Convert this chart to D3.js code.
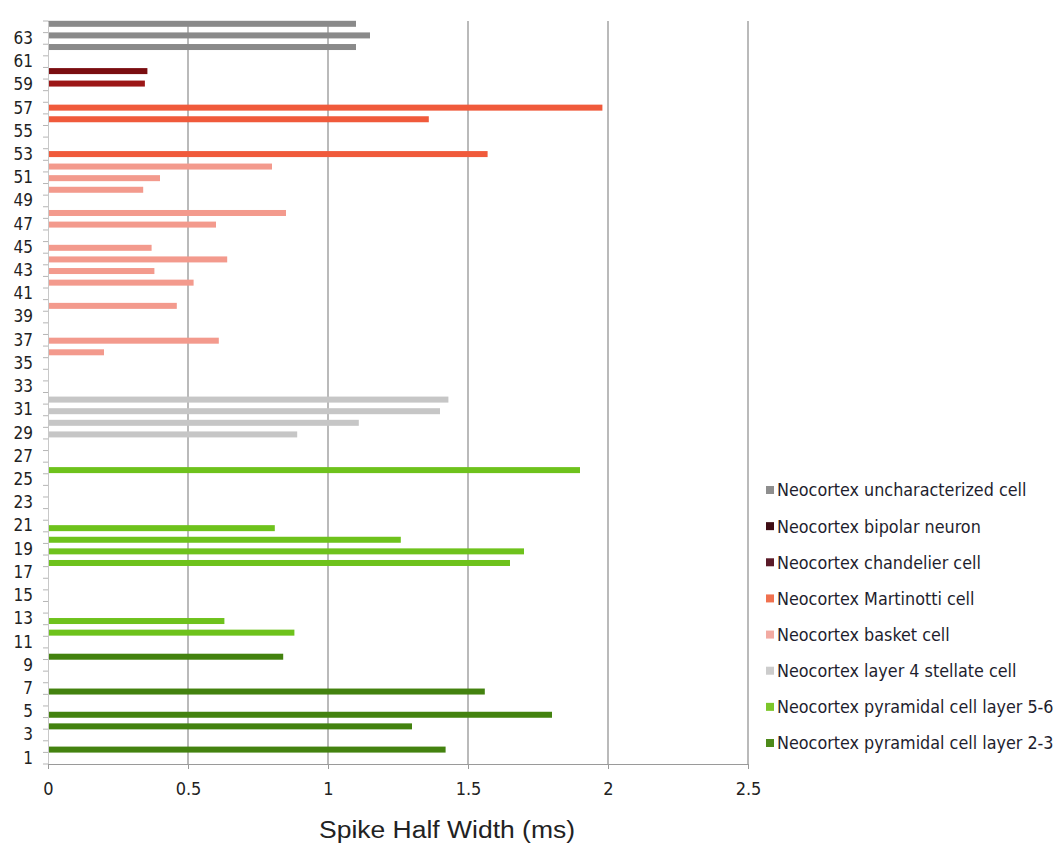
<!DOCTYPE html>
<html>
<head>
<meta charset="utf-8">
<script src="https://cdn.jsdelivr.net/npm/d3@7"></script>
<style>
  body { margin: 0; background: #fff; }
  .yLabel { font-family: "DejaVu Sans Condensed", "DejaVu Sans", sans-serif; font-size: 17px; fill: #222; }
  .xLabel { font-family: "Liberation Sans Narrow", "DejaVu Sans Condensed", sans-serif; font-size: 18px; fill: #222; }
  .legendText { font-family: "DejaVu Sans Condensed", "DejaVu Sans", sans-serif; font-size: 17.8px; fill: #1e1e2e; }
  .axisText { font-family: "Liberation Sans", Arial, sans-serif; font-size: 23px; fill: #222; }
</style>
</head>
<body>
<div class="chart"></div>
<script>
// Spike half width per cell, grouped by neocortex cell type

// Category rows 1..64 (only odd ones get a label)
var categories = d3.range(1, 65);
var yTickLabels = d3.range(1, 65, 2);
var xTickValues = [0, 0.5, 1, 1.5, 2, 2.5];

// Series names, in plotting order (first one sits lowest inside a row)
var seriesNames = [
    "Neocortex pyramidal cell layer 2-3",
    "Neocortex pyramidal cell layer 5-6",
    "Neocortex layer 4 stellate cell",
    "Neocortex basket cell",
    "Neocortex Martinotti cell",
    "Neocortex chandelier cell",
    "Neocortex bipolar neuron",
    "Neocortex uncharacterized cell"
];
var seriesColors = ["#43820f", "#6ec21c", "#c6c6c6", "#f39a8d", "#f05a3b", "#9c1717", "#7a0d10", "#8a8a8a"];
var legendColors = ["#4d8a1a", "#7cc62a", "#cccccc", "#f2aaa2", "#f0714f", "#5a1a28", "#3e0d14", "#8e8e8e"];

// [row, spike half width (ms)]
var pyr23 = [[2, 1.42], [4, 1.30], [5, 1.80], [7, 1.56], [10, 0.84]];
var pyr56 = [[12, 0.88], [13, 0.63], [18, 1.65], [19, 1.70], [20, 1.26], [21, 0.81], [26, 1.90]];
var stellate = [[29, 0.89], [30, 1.11], [31, 1.40], [32, 1.43]];
var basket = [[36, 0.20], [37, 0.61], [40, 0.46], [42, 0.52], [43, 0.38], [44, 0.64], [45, 0.37],
              [47, 0.60], [48, 0.85], [50, 0.34], [51, 0.40], [52, 0.80]];
var martinotti = [[53, 1.57], [56, 1.36], [57, 1.98]];
var chandelier = [[59, 0.346]];
var bipolar = [[60, 0.355]];
var uncharacterized = [[62, 1.10], [63, 1.15], [64, 1.10]];

var seriesValues = [pyr23, pyr56, stellate, basket, martinotti, chandelier, bipolar, uncharacterized];

var svgWidth = 1063;
var svgHeight = 856;
var chartMargin = { top: 21, right: 315, bottom: 92, left: 48 };
var chartWidth = svgWidth - chartMargin.left - chartMargin.right;
var chartHeight = svgHeight - chartMargin.top - chartMargin.bottom;

var svg = d3.select(".chart")
    .append("svg")
    .attr("width", svgWidth)
    .attr("height", svgHeight);

var chart = svg.append("g")
    .attr("transform", "translate(" + chartMargin.left + "," + chartMargin.top + ")");

// Scales
var xLinearScale = d3.scaleLinear().domain([0, 2.5]).range([0, chartWidth]);
var yBandScale = d3.scaleBand().domain(categories).range([chartHeight, 0]).padding(0);
// small shift of each series inside a row (Excel style overlap)
var seriesOffset = d3.scalePoint().domain(seriesNames).range([3, -3]);
var barHeight = 6;

// Vertical gridlines
chart.append("g")
    .selectAll("line")
    .data(xTickValues.slice(1))
    .enter()
    .append("line")
    .attr("x1", function(d) { return xLinearScale(d); })
    .attr("x2", function(d) { return xLinearScale(d); })
    .attr("y1", 0)
    .attr("y2", chartHeight)
    .attr("stroke", "#8c8c8c")
    .attr("stroke-width", 1.2);

// Bars
seriesValues.forEach(function(values, i) {
    var name = seriesNames[i];
    chart.append("g")
        .selectAll("rect")
        .data(values)
        .enter()
        .append("rect")
        .attr("x", xLinearScale(0))
        .attr("y", function(d) {
            return yBandScale(d[0]) + yBandScale.bandwidth() / 2 + seriesOffset(name) - barHeight / 2;
        })
        .attr("width", function(d) { return xLinearScale(d[1]) - xLinearScale(0); })
        .attr("height", barHeight)
        .attr("fill", seriesColors[i]);
});

// Left axis: ticks on every row boundary, labels on odd rows
var leftAxis = d3.axisLeft(yBandScale).tickSize(0).tickPadding(15)
    .tickFormat(function(d) { return yTickLabels.indexOf(d) >= 0 ? d : ""; });
var yAxisG = chart.append("g").call(leftAxis);
yAxisG.select(".domain").attr("stroke", "#c8c8c8");
yAxisG.selectAll("text").attr("class", "yLabel").attr("font-size", null).attr("font-family", null);

chart.append("g")
    .selectAll("line")
    .data(categories.concat([0]))
    .enter()
    .append("line")
    .attr("x1", -5)
    .attr("x2", 0)
    .attr("y1", function(d) { return d === 0 ? chartHeight : yBandScale(d); })
    .attr("y2", function(d) { return d === 0 ? chartHeight : yBandScale(d); })
    .attr("stroke", "#b5b5b5");

// Bottom axis
var bottomAxis = d3.axisBottom(xLinearScale).tickValues(xTickValues).tickSize(5).tickPadding(13)
    .tickFormat(function(d) { return d; });
var xAxisG = chart.append("g")
    .attr("transform", "translate(0," + chartHeight + ")")
    .call(bottomAxis);
xAxisG.select(".domain").attr("stroke", "#9a9a9a");
xAxisG.selectAll(".tick line").attr("stroke", "#9a9a9a");
xAxisG.selectAll("text").attr("class", "xLabel").attr("font-size", null).attr("font-family", null);

// X axis title
svg.append("text")
    .attr("class", "axisText")
    .attr("x", 447)
    .attr("y", 838)
    .attr("text-anchor", "middle")
    .attr("textLength", 256)
    .attr("lengthAdjust", "spacingAndGlyphs")
    .text("Spike Half Width (ms)");

// Legend (top entry is the last series)
var legendOrder = seriesNames.slice().reverse();
var legendY = d3.scalePoint().domain(legendOrder).range([490, 743]);
var legend = svg.append("g");
var legendItem = legend.selectAll("g")
    .data(legendOrder)
    .enter()
    .append("g")
    .attr("transform", function(d) { return "translate(766," + legendY(d) + ")"; });
legendItem.append("rect")
    .attr("x", 0)
    .attr("y", -4)
    .attr("width", 8)
    .attr("height", 8)
    .attr("fill", function(d) { return legendColors[seriesNames.indexOf(d)]; });
legendItem.append("text")
    .attr("class", "legendText")
    .attr("x", 11)
    .attr("dy", "0.36em")
    .text(function(d) { return d; });
</script>
</body>
</html>
